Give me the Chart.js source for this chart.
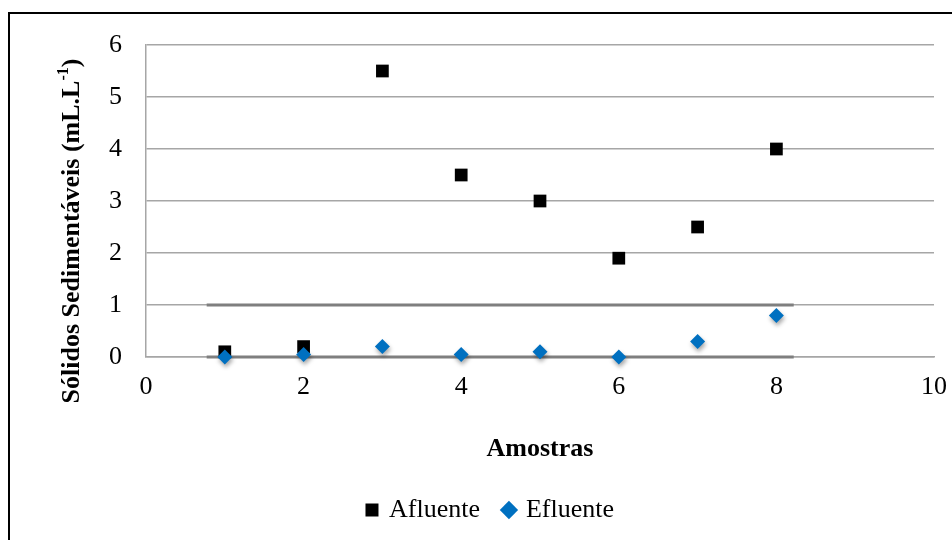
<!DOCTYPE html>
<html>
<head>
<meta charset="utf-8">
<script src="https://cdn.jsdelivr.net/npm/chart.js@4.4.1/dist/chart.umd.min.js"></script>
<style>
    html, body { margin: 0; padding: 0; background: #fff; }
    #wrap { position: relative; width: 952px; height: 540px; overflow: hidden; }
    #frame { position: absolute; left: 8px; top: 12px; width: 1000px; height: 600px; border: 2px solid #000; box-sizing: border-box; }
    #chart { position: absolute; left: 0; top: 0; }
</style>
</head>
<body>
<div id="wrap">
    <div id="frame"></div>
    <canvas id="chart" width="952" height="540"></canvas>
</div>
<script>
// Data
const amostras = [1, 2, 3, 4, 5, 6, 7, 8];
const afluente = [0.1, 0.2, 5.5, 3.5, 3.0, 1.9, 2.5, 4.0];
const efluente = [0, 0.05, 0.2, 0.05, 0.1, 0, 0.3, 0.8];

const xRange = [0, 10];
const yRange = [0, 6];
const xStep = 2;
const yStep = 1;

// the two darker guide segments seen in the picture
const guideLevels = [0, 1];
const guideSpan = [0.77, 8.22];

const serif = "'Liberation Serif', 'Times New Roman', serif";
const fontSize = 26;

function toPoints(xs, ys) {
    return xs.map((x, i) => ({ x: x, y: ys[i] }));
}

const guideSets = guideLevels.map(level => ({
    label: "guide",
    data: guideSpan.map(x => ({ x: x, y: level })),
    showLine: true,
    pointRadius: 0,
    borderColor: "#7f7f7f",
    borderWidth: 3,
    order: 5,
    clip: false
}));

// y title with superscript, drawn by hand
const yTitlePlugin = {
    id: "yTitle",
    afterDraw(chart) {
        const ctx = chart.ctx;
        const main = "Sólidos Sedimentáveis (mL.L";
        const sup = "-1";
        const end = ")";
        ctx.save();
        ctx.translate(72, 231);
        ctx.rotate(-Math.PI / 2);
        ctx.fillStyle = "#000";
        ctx.textBaseline = "middle";
        ctx.textAlign = "left";
        ctx.font = "bold " + fontSize + "px " + serif;
        const w1 = ctx.measureText(main).width;
        const w3 = ctx.measureText(end).width;
        ctx.font = "bold 16px " + serif;
        const w2 = ctx.measureText(sup).width;
        let x = -(w1 + w2 + w3) / 2;
        ctx.font = "bold " + fontSize + "px " + serif;
        ctx.fillText(main, x, 0);
        x += w1;
        ctx.font = "bold 16px " + serif;
        ctx.fillText(sup, x, -8);
        x += w2;
        ctx.font = "bold " + fontSize + "px " + serif;
        ctx.fillText(end, x, 0);
        ctx.restore();
    }
};

// soft shadow under the blue diamonds
const shadowPlugin = {
    id: "diamondShadow",
    beforeDatasetDraw(chart, args) {
        if (args.index !== 1) return;
        const ctx = chart.ctx;
        ctx.save();
        ctx.shadowColor = "rgba(0, 0, 0, 0.35)";
        ctx.shadowBlur = 4;
        ctx.shadowOffsetX = 1;
        ctx.shadowOffsetY = 3;
    },
    afterDatasetDraw(chart, args) {
        if (args.index !== 1) return;
        chart.ctx.restore();
    }
};

// the legend sits a bit right of the canvas centre in the original
const legendShift = {
    id: "legendShift",
    afterLayout(chart) {
        if (!chart.legend) return;
        chart.legend.left += 24;
        chart.legend.right += 24;
    }
};

const ctx = document.getElementById("chart").getContext("2d");
new Chart(ctx, {
    type: "scatter",
    data: {
        datasets: [
            {
                label: "Afluente",
                data: toPoints(amostras, afluente),
                pointStyle: "rect",
                pointRadius: 9,
                backgroundColor: "#000000",
                borderColor: "#000000",
                borderWidth: 0,
                order: 2,
                clip: false
            },
            {
                label: "Efluente",
                data: toPoints(amostras, efluente),
                pointStyle: "rectRot",
                pointRadius: 7.5,
                backgroundColor: "#0070C0",
                borderColor: "#0070C0",
                borderWidth: 0,
                order: 1,
                clip: false
            },
            ...guideSets
        ]
    },
    options: {
        responsive: false,
        animation: false,
        events: [],
        layout: {
            padding: { left: 0, right: 18, top: 45, bottom: 7 }
        },
        plugins: {
            tooltip: { enabled: false },
            legend: {
                position: "bottom",
                labels: {
                    usePointStyle: true,
                    boxHeight: 13,
                    boxWidth: 8,
                    padding: 25,
                    color: "#000",
                    font: { family: serif, size: fontSize },
                    filter: item => item.datasetIndex < 2,
                    sort: (a, b) => a.datasetIndex - b.datasetIndex
                }
            }
        },
        scales: {
            x: {
                type: "linear",
                min: xRange[0],
                max: xRange[1],
                ticks: {
                    stepSize: xStep,
                    color: "#000",
                    padding: 15,
                    maxRotation: 0,
                    font: { family: serif, size: fontSize }
                },
                grid: { display: false, drawTicks: false },
                border: { display: true, color: "#a6a6a6", width: 1.5 },
                title: {
                    display: true,
                    text: "Amostras",
                    color: "#000",
                    font: { family: serif, size: fontSize, weight: "bold" },
                    padding: { top: 0, bottom: 7 }
                },
                afterFit: scale => {
                    scale.height = 115;
                    scale.paddingRight = 0;
                }
            },
            y: {
                min: yRange[0],
                max: yRange[1],
                ticks: {
                    stepSize: yStep,
                    color: "#000",
                    padding: 24,
                    font: { family: serif, size: fontSize }
                },
                grid: { color: "#a6a6a6", lineWidth: 1.5, drawTicks: false },
                border: { display: true, color: "#a6a6a6", width: 1.5 },
                afterFit: scale => { scale.width = 146; }
            }
        }
    },
    plugins: [yTitlePlugin, shadowPlugin, legendShift]
});
</script>
</body>
</html>
